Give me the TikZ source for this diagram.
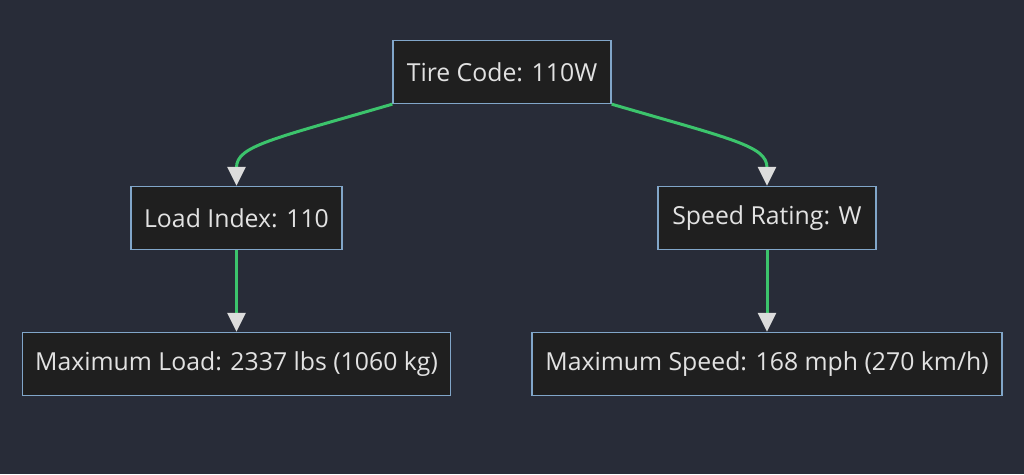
\documentclass[tikz,border=0pt]{standalone}
\usepackage{fontspec}
\setmainfont{Open Sans}
\usepackage{tikz}
\usetikzlibrary{arrows.meta}
\definecolor{bgdark}{HTML}{282C38}
\definecolor{boxfill}{HTML}{1F1F1F}
\definecolor{boxline}{HTML}{81A6C9}
\definecolor{boxtext}{HTML}{E2E2E2}
\definecolor{linkgreen}{HTML}{3CC46C}
\definecolor{tipgray}{HTML}{DCDCDC}
\tikzstyle{process} = [rectangle, minimum height=63pt, inner xsep=10pt, text centered, draw=boxline, line width=1.3pt, fill=boxfill, text=boxtext, font=\fontsize{24.8}{28}\selectfont]
\tikzstyle{arrow} = [linkgreen, line width=3pt, -{Triangle[length=19pt,width=18pt,color=tipgray]}]

\begin{document}
\begin{tikzpicture}[node distance=146pt]

% Background
\fill[bgdark] (-502pt,72pt) rectangle (522pt,-402pt);

% Nodes
\node (tire) [process, minimum width=218pt] {Tire Code: 110W};
\node (load) [process, below of=tire, xshift=-265.5pt, minimum width=211pt] {Load Index: 110};
\node (speed) [process, below of=tire, xshift=265pt, minimum width=218pt] {Speed Rating: W};
\node (maxload) [process, below of=load, minimum width=428pt] {Maximum Load: 2337 lbs (1060 kg)};
\node (maxspeed) [process, below of=speed, minimum width=470pt] {Maximum Speed: 168 mph (270 km/h)};

% Arrows
\draw [arrow] (tire.south west) .. controls +(-120pt,-35pt) and +(0pt,40pt) .. (load.north);
\draw [arrow] (tire.south east) .. controls +(120pt,-35pt) and +(0pt,40pt) .. (speed.north);
\draw [arrow] (load) -- (maxload);
\draw [arrow] (speed) -- (maxspeed);

\end{tikzpicture}
\end{document}
